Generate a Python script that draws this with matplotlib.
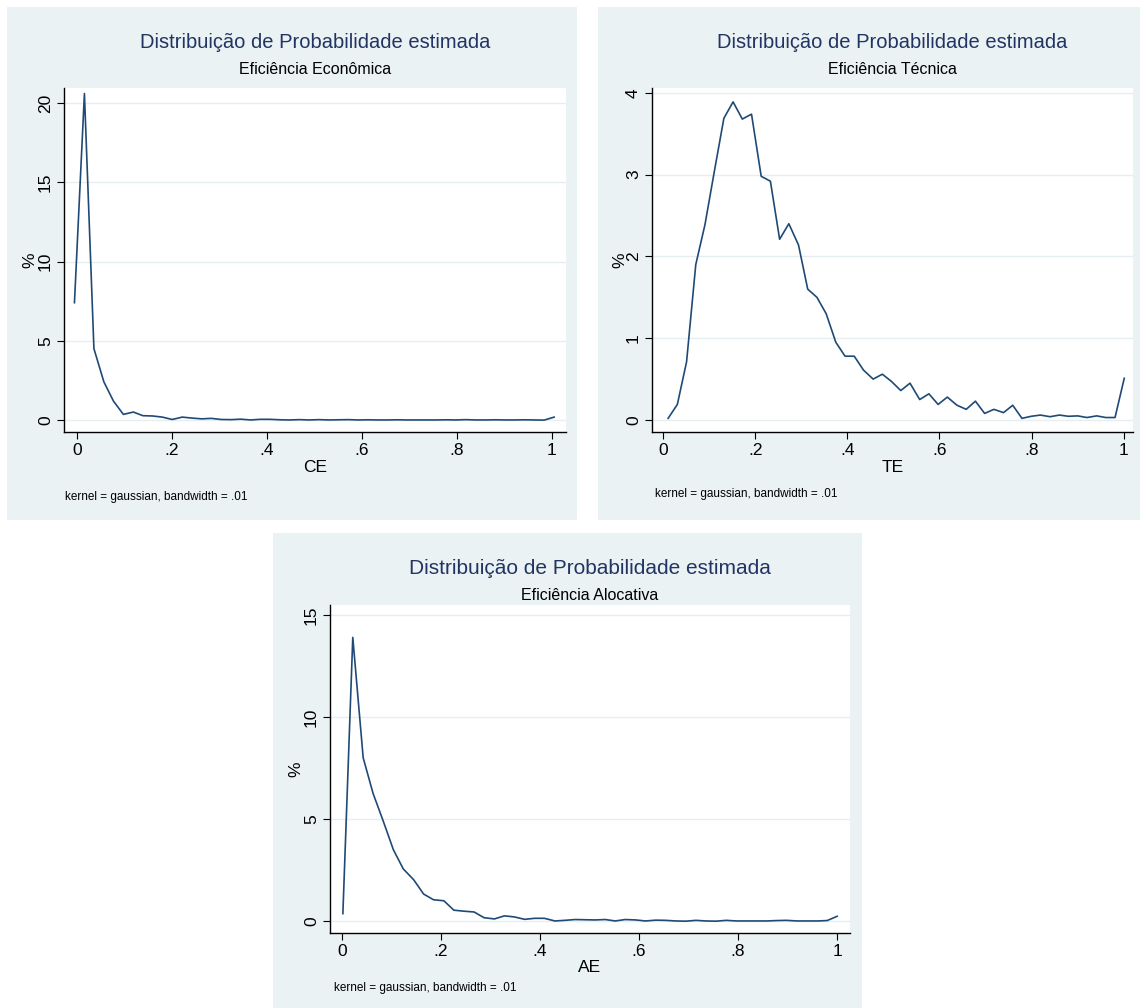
import matplotlib
matplotlib.use('Agg')
import matplotlib.pyplot as plt
from matplotlib.patches import Rectangle

plt.rcParams['font.family'] = ['Liberation Sans', 'DejaVu Sans']

# evaluation points and estimated densities
ce_x = [-0.005, 0.016, 0.036, 0.057, 0.077, 0.098, 0.119, 0.139, 0.160, 0.180,
        0.201, 0.222, 0.242, 0.263, 0.283, 0.304, 0.325, 0.345, 0.366, 0.386,
        0.407, 0.428, 0.448, 0.469, 0.489, 0.510, 0.531, 0.551, 0.572, 0.592,
        0.613, 0.634, 0.654, 0.675, 0.695, 0.716, 0.737, 0.757, 0.778, 0.798,
        0.819, 0.840, 0.860, 0.881, 0.901, 0.922, 0.943, 0.963, 0.984, 1.005]
ce_y = [7.4, 20.6, 4.5, 2.4, 1.2, 0.35, 0.5, 0.27, 0.25, 0.18,
        0.03, 0.18, 0.12, 0.07, 0.1, 0.03, 0.02, 0.05, 0.0, 0.04,
        0.04, 0.01, 0.0, 0.02, 0.0, 0.02, 0.0, 0.01, 0.02, 0.0,
        0.01, 0.0, 0.0, 0.01, 0.0, 0.0, 0.0, 0.0, 0.01, 0.0,
        0.02, 0.0, 0.0, 0.01, 0.0, 0.0, 0.01, 0.0, -0.01, 0.18]

te_x = [0.011, 0.031, 0.051, 0.071, 0.091, 0.111, 0.132, 0.152, 0.172, 0.192,
        0.213, 0.233, 0.253, 0.273, 0.294, 0.314, 0.334, 0.354, 0.375, 0.395,
        0.415, 0.435, 0.456, 0.476, 0.496, 0.516, 0.536, 0.557, 0.577, 0.597,
        0.617, 0.638, 0.658, 0.678, 0.698, 0.718, 0.739, 0.759, 0.779, 0.799,
        0.819, 0.840, 0.860, 0.880, 0.900, 0.920, 0.941, 0.961, 0.981, 1.001]
te_y = [0.02, 0.19, 0.71, 1.90, 2.39, 3.03, 3.69, 3.89, 3.68, 3.74,
        2.98, 2.92, 2.21, 2.40, 2.14, 1.60, 1.50, 1.30, 0.95, 0.78,
        0.78, 0.61, 0.50, 0.56, 0.47, 0.36, 0.45, 0.25, 0.32, 0.19,
        0.28, 0.18, 0.13, 0.23, 0.08, 0.13, 0.09, 0.18, 0.02, 0.045,
        0.06, 0.04, 0.06, 0.045, 0.05, 0.03, 0.05, 0.03, 0.03, 0.51]

ae_x = [0.002, 0.022, 0.043, 0.063, 0.083, 0.104, 0.124, 0.145, 0.165, 0.185,
        0.206, 0.226, 0.246, 0.267, 0.287, 0.308, 0.328, 0.348, 0.369, 0.389,
        0.409, 0.430, 0.450, 0.471, 0.491, 0.511, 0.532, 0.552, 0.572, 0.593,
        0.613, 0.634, 0.654, 0.674, 0.695, 0.715, 0.735, 0.756, 0.776, 0.797,
        0.817, 0.837, 0.858, 0.878, 0.898, 0.919, 0.939, 0.960, 0.980, 1.000]
ae_y = [0.36, 13.9, 8.0, 6.25, 4.93, 3.49, 2.55, 2.02, 1.32, 1.04,
        0.99, 0.53, 0.48, 0.44, 0.16, 0.10, 0.25, 0.20, 0.08, 0.13,
        0.13, 0.0, 0.03, 0.07, 0.06, 0.05, 0.07, 0.0, 0.07, 0.05,
        0.0, 0.04, 0.03, 0.0, -0.01, 0.03, 0.0, -0.01, 0.03, 0.0,
        0.0, 0.0, 0.0, 0.02, 0.03, 0.0, 0.0, 0.0, 0.02, 0.23]

x_ticks = [0, 0.2, 0.4, 0.6, 0.8, 1]
x_ticklabels = ['0', '.2', '.4', '.6', '.8', '1']

title = 'Distribuição de Probabilidade estimada'
note = 'kernel = gaussian, bandwidth = .01'

W, H = 1140, 1008
BG = '#EAF2F3'
NAVY = '#1F4A75'
TITLE_NAVY = '#223463'

fig = plt.figure(figsize=(W / 100, H / 100), dpi=100)


def fx(px):
    return px / W


def fy(py):
    return 1 - py / H


def panel(box, plot, data, yticks, xlim, ylim, subtitle, xlabel, ylab_x, note_x, note_y, xlab_y, tsize):
    # box: outer grey region (x0, y0, x1, y1) in pixels
    x0, y0, x1, y1 = box
    fig.patches.append(Rectangle((fx(x0), fy(y1)), fx(x1) - fx(x0), fy(y0) - fy(y1),
                                 transform=fig.transFigure, facecolor=BG, edgecolor='none', zorder=-10))
    l, t, r, b = plot
    ax = fig.add_axes([fx(l), fy(b), fx(r) - fx(l), fy(t) - fy(b)])
    ax.set_zorder(5)
    ax.set_facecolor('white')
    ax.plot(data[0], data[1], color=NAVY, lw=1.2)
    ax.set_xlim(*xlim)
    ax.set_ylim(*ylim)
    ax.set_xticks(x_ticks)
    ax.set_xticklabels(x_ticklabels)
    ax.set_yticks(yticks)
    ax.set_yticklabels([str(v) for v in yticks], rotation=90, va='center')
    for s in ['top', 'right']:
        ax.spines[s].set_visible(False)
    for s in ['left', 'bottom']:
        ax.spines[s].set_color('black')
        ax.spines[s].set_linewidth(1.0)
    ax.tick_params(axis='both', direction='out', length=5, width=0.8, labelsize=12.5, pad=3)
    ax.grid(axis='y', color='#E6EEF1', lw=1.0)
    ax.set_axisbelow(True)
    cx = (l + r) / 2
    fig.text(fx(cx), fy(42 + y0 - 7), title, ha='center', va='center', fontsize=tsize, color=TITLE_NAVY)
    fig.text(fx(cx), fy(70 + y0 - 7), subtitle, ha='center', va='center', fontsize=11.5, color='black')
    fig.text(fx(cx), fy(xlab_y), xlabel, ha='center', va='center', fontsize=12.5, color='black')
    fig.text(fx(ylab_x), fy((t + b) / 2), '%', ha='center', va='center', rotation=90, fontsize=12.5)
    fig.text(fx(note_x), fy(note_y), note, ha='left', va='center', fontsize=8.5, color='black')
    return ax


panel((7, 7, 577, 520), (64, 88, 566, 432), (ce_x, ce_y), [0, 5, 10, 15, 20],
      (-0.027, 1.03), (-0.76, 20.95), 'Eficiência Econômica', 'CE', 30, 65, 497, 468, 14.5)
panel((598, 7, 1140, 520), (652, 88, 1133, 432), (te_x, te_y), [0, 1, 2, 3, 4],
      (-0.024, 1.02), (-0.147, 4.06), 'Eficiência Técnica', 'TE', 620, 655, 494, 468, 14.5)
panel((273, 533, 862, 1008), (330, 605, 850, 933), (ae_x, ae_y), [0, 5, 10, 15],
      (-0.024, 1.026), (-0.59, 15.49), 'Eficiência Alocativa', 'AE', 296, 334, 988, 968, 15)

fig.savefig('out.png', dpi=100, facecolor='white')
